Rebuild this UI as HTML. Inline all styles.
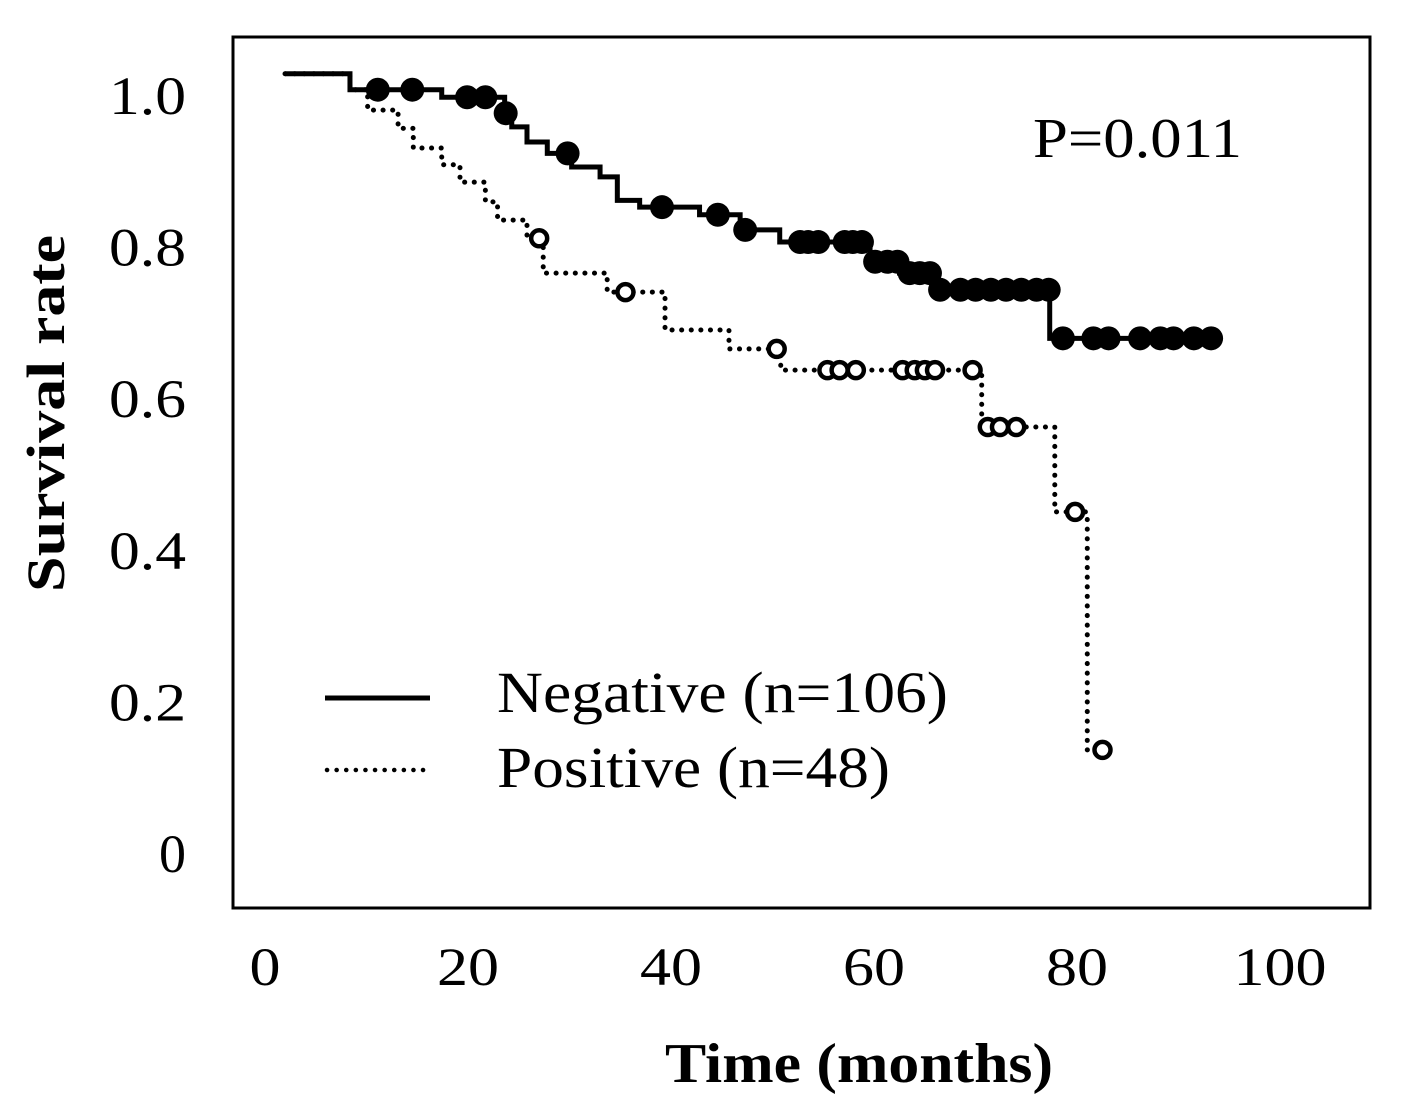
<!DOCTYPE html>
<html><head><meta charset="utf-8"><style>
html,body{margin:0;padding:0;background:#fff;}
svg{display:block;font-family:"Liberation Serif",serif;}
</style></head><body>
<svg id="chart" width="1417" height="1102" viewBox="0 0 1417 1102">
<rect x="233" y="37" width="1137" height="871" fill="none" stroke="#000" stroke-width="3"/>
<g id="ticks"></g>
<g id="series"></g>
<text x="665" y="1082" textLength="388" lengthAdjust="spacingAndGlyphs" font-size="56" font-weight="bold">Time (months)</text>
<text transform="translate(64,592) rotate(-90)" textLength="357" lengthAdjust="spacingAndGlyphs" font-size="54" font-weight="bold">Survival rate</text>
<text x="1033" y="157" textLength="209" lengthAdjust="spacingAndGlyphs" font-size="56">P=0.011</text>
<g>
<line x1="325" y1="698" x2="430" y2="698" stroke="#000" stroke-width="5"/>
<text x="497" y="712" textLength="451" lengthAdjust="spacingAndGlyphs" font-size="58">Negative (n=106)</text>
<line x1="327" y1="770" x2="430" y2="770" stroke="#000" stroke-width="4.5" stroke-dasharray="0.1 9.5" stroke-linecap="round"/>
<text x="497" y="787" textLength="393" lengthAdjust="spacingAndGlyphs" font-size="58">Positive (n=48)</text>
</g>
</svg>
<script>
const xTicks=[0,20,40,60,80,100];
const xTickLabels=["0","20","40","60","80","100"];
const yTicks=[0,0.2,0.4,0.6,0.8,1.0];
const yTickLabels=["0","0.2","0.4","0.6","0.8","1.0"];
const negTimes=[2.76,9.16,18.2,24.4,25.1,26.6,28.6,31.0,33.8,35.5,37.7,43.6,47.6,51.5,60.4,63.3,66.8,78.1];
const negSurv=[1.028,1.007,0.997,0.976,0.958,0.938,0.923,0.905,0.892,0.861,0.852,0.842,0.822,0.806,0.780,0.765,0.743,0.679];
const negEnd=94.1;
const negCensor=[11.9,15.3,20.7,22.5,24.5,30.6,39.9,45.4,48.1,53.5,54.3,55.3,57.9,58.7,59.6,60.9,62.1,63.1,64.3,65.3,66.3,67.3,69.3,70.8,72.3,73.8,75.3,76.8,78.0,79.4,82.4,83.9,87.0,89.0,90.3,92.3,94.0];
const posTimes=[2.76,9.16,10.9,13.9,15.4,18.2,20.0,22.5,23.7,26.6,28.2,34.5,40.2,46.5,51.6,71.4,78.6,81.8];
const posSurv=[1.028,1.007,0.980,0.956,0.930,0.908,0.885,0.859,0.835,0.811,0.765,0.740,0.690,0.665,0.637,0.562,0.450,0.136];
const posEnd=83.4;
const posCensor=[27.8,36.3,51.2,56.2,57.4,59.0,63.6,64.8,65.8,66.8,70.5,72.0,73.2,74.8,80.6,83.3];
const X=t=>257+10.15*t;
const Y=v=>853-758*v;
const NS="http://www.w3.org/2000/svg";
function mk(tag,attrs,parent){const e=document.createElementNS(NS,tag);for(const k in attrs)e.setAttribute(k,attrs[k]);parent.appendChild(e);return e;}
const tg=document.getElementById('ticks');
xTicks.forEach((t,i)=>{const lab=xTickLabels[i];const w=31*lab.length;
const e=mk('text',{x:X(t)+8-w/2,y:985,'font-size':54,textLength:w,lengthAdjust:'spacingAndGlyphs'},tg);e.textContent=lab;

});
yTicks.forEach((v,i)=>{const lab=yTickLabels[i];const w=lab.length===1?27:77;
const e=mk('text',{x:186-w,y:Y(v)+19,'font-size':54,textLength:w,lengthAdjust:'spacingAndGlyphs'},tg);e.textContent=lab;

});
function stepPath(ts,vs,end){let d='M'+X(ts[0])+','+Y(vs[0]);for(let i=1;i<ts.length;i++){d+=' H'+X(ts[i])+' V'+Y(vs[i]);}d+=' H'+X(end);return d;}
function valAt(ts,vs,t){let v=vs[0];for(let i=0;i<ts.length;i++){if(ts[i]<=t)v=vs[i];}return v;}
const sg=document.getElementById('series');
const pp=mk('path',{d:stepPath(posTimes,posSurv,posEnd),fill:'none',stroke:'#000','stroke-width':5,'stroke-dasharray':'0.1 9.5','stroke-linecap':'round'},sg);


const np=mk('path',{d:stepPath(negTimes,negSurv,negEnd),fill:'none',stroke:'#000','stroke-width':5},sg);


negCensor.forEach(t=>{const c=mk('circle',{cx:X(t),cy:Y(valAt(negTimes,negSurv,t)),r:12,fill:'#000'},sg);

});
posCensor.forEach(t=>{const c=mk('circle',{cx:X(t),cy:Y(valAt(posTimes,posSurv,t)),r:8,fill:'#fff',stroke:'#000','stroke-width':4.5},sg);

});
</script>
</body></html>
